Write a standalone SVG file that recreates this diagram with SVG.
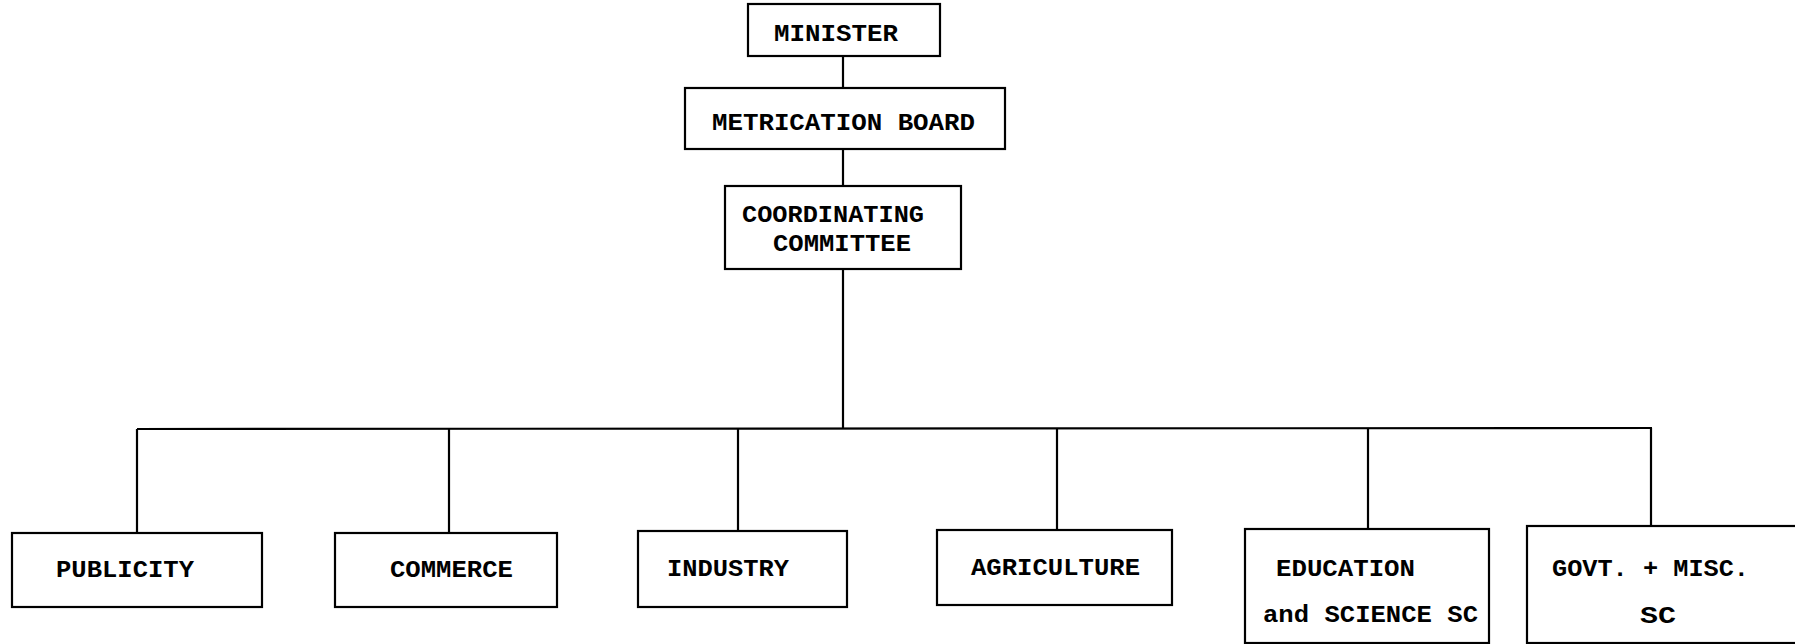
<svg xmlns="http://www.w3.org/2000/svg" width="1795" height="644" viewBox="0 0 1795 644">
<style>
.box{fill:#fff;stroke:#000;stroke-width:2.2}
.ln{stroke:#000;stroke-width:2.2;fill:none}
text{font-family:"Liberation Mono","DejaVu Sans Mono",monospace;font-size:23px;font-weight:bold;fill:#000}
</style>
<rect width="1795" height="644" fill="#fff"/>
<g id="connectors">
<line class="ln" x1="843" y1="56" x2="843" y2="88"/>
<line class="ln" x1="843" y1="149" x2="843" y2="186"/>
<line class="ln" x1="843" y1="269" x2="843" y2="428"/>
<line class="ln" x1="137" y1="429" x2="1652" y2="428"/>
<line class="ln" x1="137" y1="429" x2="137" y2="533"/>
<line class="ln" x1="449" y1="429" x2="449" y2="533"/>
<line class="ln" x1="738" y1="428" x2="738" y2="531"/>
<line class="ln" x1="1057" y1="428" x2="1057" y2="530"/>
<line class="ln" x1="1368" y1="428" x2="1368" y2="529"/>
<line class="ln" x1="1651" y1="428" x2="1651" y2="526"/>
</g>
<g id="minister">
<rect class="box" x="748" y="4" width="192" height="52"/>
<text x="774" y="41" textLength="124" lengthAdjust="spacingAndGlyphs">MINISTER</text>
</g>
<g id="metrication-board">
<rect class="box" x="685" y="88" width="320" height="61"/>
<text x="712" y="130" textLength="263" lengthAdjust="spacingAndGlyphs">METRICATION BOARD</text>
</g>
<g id="coordinating-committee">
<rect class="box" x="725" y="186" width="236" height="83"/>
<text x="742" y="222" textLength="182" lengthAdjust="spacingAndGlyphs">COORDINATING</text>
<text x="773" y="251" textLength="138" lengthAdjust="spacingAndGlyphs">COMMITTEE</text>
</g>
<g id="publicity">
<rect class="box" x="12" y="533" width="250" height="74"/>
<text x="56" y="577" textLength="138" lengthAdjust="spacingAndGlyphs">PUBLICITY</text>
</g>
<g id="commerce">
<rect class="box" x="335" y="533" width="222" height="74"/>
<text x="390" y="577" textLength="123" lengthAdjust="spacingAndGlyphs">COMMERCE</text>
</g>
<g id="industry">
<rect class="box" x="638" y="531" width="209" height="76"/>
<text x="667" y="576" textLength="122" lengthAdjust="spacingAndGlyphs">INDUSTRY</text>
</g>
<g id="agriculture">
<rect class="box" x="937" y="530" width="235" height="75"/>
<text x="971" y="575" textLength="169" lengthAdjust="spacingAndGlyphs">AGRICULTURE</text>
</g>
<g id="education">
<rect class="box" x="1245" y="529" width="244" height="114"/>
<text x="1276" y="576" textLength="139" lengthAdjust="spacingAndGlyphs">EDUCATION</text>
<text x="1263" y="622" textLength="215" lengthAdjust="spacingAndGlyphs">and SCIENCE SC</text>
</g>
<g id="govt-misc">
<rect class="box" x="1527" y="526" width="270" height="117"/>
<text x="1552" y="576" textLength="197" lengthAdjust="spacingAndGlyphs">GOVT. + MISC.</text>
<text x="1640" y="623" textLength="36" lengthAdjust="spacingAndGlyphs">SC</text>
</g>
</svg>
